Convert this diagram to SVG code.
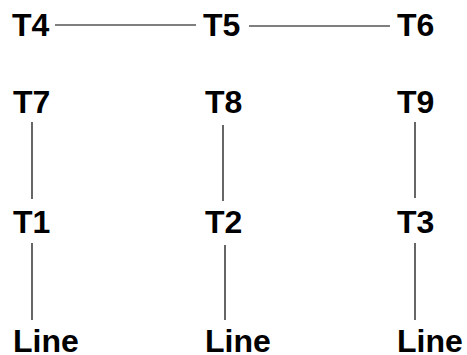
<svg xmlns="http://www.w3.org/2000/svg" width="467" height="355" viewBox="0 0 467 355">
<style>
text{font-family:"Liberation Sans",Arial,sans-serif;font-weight:bold;font-size:32px;fill:#000}
.c line{stroke:#000;stroke-width:1.2}
</style>
<rect width="467" height="355" fill="#fff"/>
<g class="c" id="connectors">
<line x1="55" y1="25" x2="196" y2="25"/>
<line x1="249" y1="26" x2="390" y2="26"/>
<line x1="32" y1="122" x2="32" y2="199"/>
<line x1="223" y1="125" x2="223" y2="201"/>
<line x1="415" y1="122" x2="415" y2="198"/>
<line x1="32" y1="243" x2="32" y2="320"/>
<line x1="225" y1="245" x2="225" y2="320"/>
<line x1="415" y1="243" x2="415" y2="320"/>
</g>
<g id="T4"><text x="12" y="36">T4</text></g>
<g id="T5"><text x="203" y="36">T5</text></g>
<g id="T6"><text x="397" y="36">T6</text></g>
<g id="T7"><text x="13" y="113">T7</text></g>
<g id="T8"><text x="205" y="113">T8</text></g>
<g id="T9"><text x="397" y="113">T9</text></g>
<g id="T1"><text x="13" y="233">T1</text></g>
<g id="T2"><text x="205" y="233">T2</text></g>
<g id="T3"><text x="397" y="233">T3</text></g>
<g id="L1"><text x="13" y="352">Line</text></g>
<g id="L2"><text x="205" y="352">Line</text></g>
<g id="L3"><text x="397" y="352">Line</text></g>
</svg>
